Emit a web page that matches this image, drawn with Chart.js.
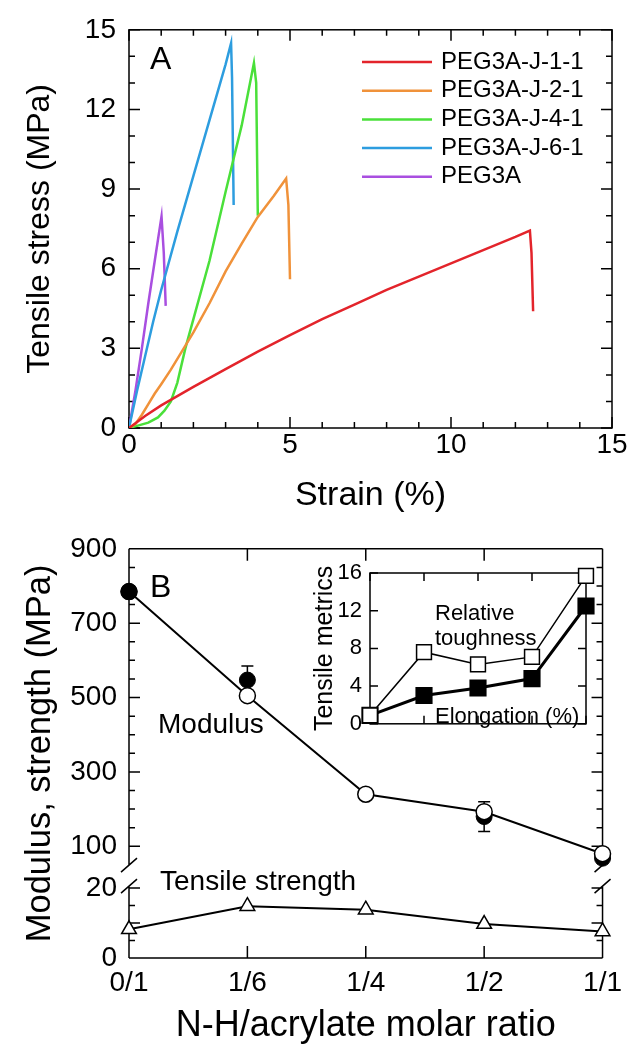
<!DOCTYPE html>
<html>
<head>
<meta charset="utf-8">
<title>PEG3A tensile tests</title>
<script src="https://cdn.jsdelivr.net/npm/chart.js@4.4.1/dist/chart.umd.min.js"></script>
<style>
  html, body { margin: 0; padding: 0; background: #fff; overflow: hidden; }
  #figure { position: relative; width: 630px; height: 1044px; overflow: hidden; }
  #figure canvas { position: absolute; }
  #chartA { left: 0; top: 0; }
  #chartB { left: 0; top: 520px; }
  #chartC { left: 290px; top: 550px; }
</style>
</head>
<body>
<div id="figure">
  <canvas id="chartA" width="630" height="520"></canvas>
  <canvas id="chartB" width="630" height="530"></canvas>
  <canvas id="chartC" width="310" height="195"></canvas>
</div>
<script>
// ---- panel A: stress-strain curves ----
const strainTicks = [0, 5, 10, 15];
const stressTicks = [0, 3, 6, 9, 12, 15];

const sampleNames = ['PEG3A-J-1-1', 'PEG3A-J-2-1', 'PEG3A-J-4-1', 'PEG3A-J-6-1', 'PEG3A'];
const sampleColors = ['#e3242b', '#f0923a', '#4ae03a', '#2d9ddf', '#a94fe0'];

const j11Strain = [0, 0.5, 1, 1.5, 2, 3, 4, 5, 6, 7, 8, 9, 10, 11, 12, 12.45, 12.5, 12.55];
const j11Stress = [0, 0.45, 0.85, 1.2, 1.55, 2.22, 2.88, 3.5, 4.1, 4.65, 5.2, 5.7, 6.2, 6.7, 7.2, 7.44, 6.6, 4.4];

const j21Strain = [0, 0.2, 0.4, 0.6, 0.8, 1.0, 1.3, 1.7, 2.0, 2.5, 3.0, 3.5, 4.0, 4.5, 4.88, 4.95, 5.0];
const j21Stress = [0, 0.15, 0.5, 0.9, 1.3, 1.65, 2.2, 3.0, 3.6, 4.7, 5.9, 6.95, 7.95, 8.75, 9.4, 8.4, 5.6];

const j41Strain = [0, 0.3, 0.6, 0.9, 1.1, 1.3, 1.5, 1.75, 2.0, 2.5, 3.0, 3.5, 3.88, 3.95, 4.0];
const j41Stress = [0, 0.1, 0.2, 0.4, 0.65, 1.0, 1.7, 3.0, 4.1, 6.3, 8.9, 11.4, 13.75, 13.0, 8.0];

const j61Strain = [0, 0.25, 0.5, 0.75, 1.0, 1.5, 2.0, 2.5, 3.0, 3.17, 3.2, 3.25];
const j61Stress = [0, 1.4, 2.7, 4.0, 5.2, 7.4, 9.5, 11.6, 13.7, 14.5, 13.2, 8.4];

const pegStrain = [0, 0.2, 0.4, 0.6, 0.8, 1.01, 1.08, 1.14];
const pegStress = [0, 1.4, 3.0, 4.7, 6.3, 7.97, 6.6, 4.6];

const curves = [
    [j11Strain, j11Stress],
    [j21Strain, j21Stress],
    [j41Strain, j41Stress],
    [j61Strain, j61Stress],
    [pegStrain, pegStress]
];

// ---- panel B: modulus and strength vs N-H/acrylate ratio ----
const ratioLabels = ['0/1', '1/6', '1/4', '1/2', '1/1'];
const modulusTicks = [100, 300, 500, 700, 900];
const strengthTicks = [0, 10, 20];
const modulusOpen = [785, 505, 240, 193, 80];
const modulusFilled = [785, 547, null, 180, 68];
const modulusErr = [0, 38, 0, 40, 0];
const strength = [8.2, 14.8, 13.8, 9.7, 7.6];

// ---- inset ----
const metricTicks = [0, 4, 8, 12, 16];
const toughness = [0.9, 7.6, 6.3, 7.1, 15.7];
const elongation = [0.9, 3.0, 3.8, 4.8, 12.5];

const FONT = "'Liberation Sans', Arial, Helvetica, sans-serif";
Chart.defaults.font.family = FONT;
Chart.defaults.color = '#000';
Chart.defaults.animation = false;

function fixedTicks(values) {
    return scale => { scale.ticks = values.map(v => ({ value: v })); };
}

function range(from, to, step) {
    const out = [];
    for (let v = from; v <= to + 1e-9; v += step) out.push(v);
    return out;
}

// inward ticks on bottom + top
function markX(ctx, a, scale, values, len) {
    values.forEach(v => {
        const p = scale.getPixelForValue(v);
        ctx.moveTo(p, a.bottom); ctx.lineTo(p, a.bottom - len);
        ctx.moveTo(p, a.top); ctx.lineTo(p, a.top + len);
    });
}

// inward ticks on left + right
function markY(ctx, a, scale, values, len) {
    values.forEach(v => {
        const p = scale.getPixelForValue(v);
        ctx.moveTo(a.left, p); ctx.lineTo(a.left + len, p);
        ctx.moveTo(a.right, p); ctx.lineTo(a.right - len, p);
    });
}

function hiddenGrid() {
    return { display: false, drawTicks: false };
}

// ---------- chart A ----------
const frameA = {
    id: 'frameA',
    beforeDatasetsDraw(chart) {
        const { ctx, chartArea: a, scales: { x, y } } = chart;
        ctx.save();
        ctx.strokeStyle = '#000';
        ctx.lineWidth = 1.5;
        ctx.strokeRect(a.left, a.top, a.width, a.height);
        ctx.beginPath();
        markX(ctx, a, x, range(0, 15, 1), 6);
        markX(ctx, a, x, strainTicks, 11);
        markY(ctx, a, y, range(0, 15, 1), 6);
        markY(ctx, a, y, stressTicks, 11);
        ctx.stroke();
        ctx.restore();
    },
    afterDraw(chart) {
        const { ctx } = chart;
        ctx.save();
        ctx.font = `24px ${FONT}`;
        ctx.textBaseline = 'middle';
        chart.data.datasets.forEach((ds, i) => {
            const yy = 62 + i * 28.7;
            ctx.strokeStyle = ds.borderColor;
            ctx.lineWidth = 2.5;
            ctx.beginPath();
            ctx.moveTo(362, yy);
            ctx.lineTo(432, yy);
            ctx.stroke();
            ctx.fillStyle = '#000';
            ctx.fillText(ds.label, 441, yy);
        });
        ctx.font = `32px ${FONT}`;
        ctx.textBaseline = 'alphabetic';
        ctx.fillText('A', 150, 69);
        ctx.restore();
    }
};

new Chart(document.getElementById('chartA'), {
    type: 'scatter',
    data: {
        datasets: curves.map((c, i) => ({
            label: sampleNames[i],
            data: c[0].map((s, k) => ({ x: s, y: c[1][k] })),
            showLine: true,
            borderColor: sampleColors[i],
            borderWidth: 2.5,
            pointRadius: 0,
            tension: 0
        }))
    },
    options: {
        responsive: false,
        animation: false,
        layout: { padding: { top: 20, right: 18, left: 0, bottom: 0 } },
        plugins: { legend: { display: false }, tooltip: { enabled: false } },
        scales: {
            x: {
                type: 'linear', min: 0, max: 15,
                afterBuildTicks: fixedTicks(strainTicks),
                grid: hiddenGrid(), border: { display: false },
                ticks: { font: { size: 28 }, padding: 0, color: '#000' },
                title: { display: true, text: 'Strain (%)', font: { size: 34 }, color: '#000', padding: { top: 0, bottom: 3.6 } },
                afterFit: s => { s.height = 92; }
            },
            y: {
                type: 'linear', min: 0, max: 15,
                afterBuildTicks: fixedTicks(stressTicks),
                grid: hiddenGrid(), border: { display: false },
                ticks: { font: { size: 28 }, padding: 13, color: '#000' },
                title: { display: true, text: 'Tensile stress (MPa)', font: { size: 32 }, color: '#000', padding: { top: 21, bottom: 0 } },
                afterFit: s => { s.width = 129; }
            }
        }
    },
    plugins: [frameA]
});

// ---------- chart B ----------
const TOP_B = 520;

const frameB = {
    id: 'frameB',
    beforeDatasetsDraw(chart) {
        const { ctx, chartArea: a, scales: { x, yMod, yStr } } = chart;
        const breakTop = yMod.bottom - 12;
        const breakBottom = yStr.top + 9;
        ctx.save();
        ctx.strokeStyle = '#000';
        ctx.lineWidth = 1.5;
        ctx.beginPath();
        ctx.moveTo(a.left, a.top); ctx.lineTo(a.right, a.top);
        ctx.moveTo(a.left, a.bottom); ctx.lineTo(a.right, a.bottom);
        [a.left, a.right].forEach(xx => {
            ctx.moveTo(xx, a.top); ctx.lineTo(xx, breakTop);
            ctx.moveTo(xx, breakBottom); ctx.lineTo(xx, a.bottom);
            [breakTop, breakBottom].forEach(yy => {
                ctx.moveTo(xx - 8, yy + 7); ctx.lineTo(xx + 8, yy - 7);
            });
        });
        markX(ctx, a, x, ratioLabels.map((_, i) => i), 12);
        const sides = { left: a.left, right: a.right };
        markY(ctx, sides, yMod, range(100, 900, 50), 6);
        markY(ctx, sides, yMod, modulusTicks, 11);
        markY(ctx, sides, yStr, range(0, 20, 5), 6);
        markY(ctx, sides, yStr, strengthTicks, 11);
        ctx.stroke();

        // error bars on the filled modulus points
        ctx.beginPath();
        modulusFilled.forEach((v, i) => {
            if (v === null || !modulusErr[i]) return;
            const px = x.getPixelForValue(i);
            const hi = yMod.getPixelForValue(v + modulusErr[i]);
            const lo = yMod.getPixelForValue(v - modulusErr[i]);
            ctx.moveTo(px, hi); ctx.lineTo(px, lo);
            ctx.moveTo(px - 6, hi); ctx.lineTo(px + 6, hi);
            ctx.moveTo(px - 6, lo); ctx.lineTo(px + 6, lo);
        });
        ctx.stroke();
        ctx.restore();
    },
    afterDraw(chart) {
        const { ctx, chartArea: a } = chart;
        ctx.save();
        ctx.fillStyle = '#000';
        ctx.textBaseline = 'alphabetic';
        ctx.font = `32px ${FONT}`;
        ctx.fillText('B', 150, 597 - TOP_B);
        ctx.font = `28px ${FONT}`;
        ctx.fillText('Modulus', 158, 733 - TOP_B);
        ctx.fillText('Tensile strength', 160, 890 - TOP_B);

        ctx.translate(40, (a.top + a.bottom) / 2);
        ctx.rotate(-Math.PI / 2);
        ctx.font = `34.5px ${FONT}`;
        ctx.textAlign = 'center';
        ctx.textBaseline = 'middle';
        ctx.fillText('Modulus, strength (MPa)', 0, 0);
        ctx.restore();
    }
};

new Chart(document.getElementById('chartB'), {
    type: 'line',
    data: {
        labels: ratioLabels,
        datasets: [
            {
                label: 'Tensile strength', data: strength, yAxisID: 'yStr',
                borderColor: '#000', borderWidth: 2,
                pointStyle: 'triangle', pointRadius: 8.5,
                pointBackgroundColor: '#fff', pointBorderColor: '#000', pointBorderWidth: 1.5,
                clip: false, order: 1
            },
            {
                label: 'Modulus', data: modulusOpen, yAxisID: 'yMod',
                borderColor: '#000', borderWidth: 2,
                pointStyle: 'circle', pointRadius: 8,
                pointBackgroundColor: modulusOpen.map((v, i) => i === 0 ? '#000' : '#fff'),
                pointBorderColor: '#000', pointBorderWidth: 1.5,
                clip: false, order: 1
            },
            {
                label: 'Modulus (2nd set)', data: modulusFilled, yAxisID: 'yMod',
                showLine: false,
                pointStyle: 'circle', pointRadius: 8,
                pointBackgroundColor: '#000', pointBorderColor: '#000',
                clip: false, order: 2
            }
        ]
    },
    options: {
        responsive: false,
        animation: false,
        layout: { padding: { top: 28, right: 18, left: 0, bottom: 0 } },
        plugins: { legend: { display: false }, tooltip: { enabled: false } },
        scales: {
            x: {
                type: 'category', offset: false,
                grid: hiddenGrid(), border: { display: false },
                ticks: { font: { size: 28 }, padding: 8, maxRotation: 0, autoSkip: false, color: '#000' },
                title: { display: true, text: 'N-H/acrylate molar ratio', font: { size: 36 }, color: '#000', padding: { top: 0, bottom: 2.7 } },
                afterFit: s => { s.height = 92; }
            },
            // left boxes are stacked in reverse order: the lower axis is declared first
            yStr: {
                type: 'linear', position: 'left', stack: 'ratio', stackWeight: 81,
                min: 0, max: 23.1,
                afterBuildTicks: fixedTicks(strengthTicks),
                grid: hiddenGrid(), border: { display: false },
                ticks: { font: { size: 28 }, padding: 12, color: '#000' },
                afterFit: s => { s.width = 129; }
            },
            yMod: {
                type: 'linear', position: 'left', stack: 'ratio', stackWeight: 329,
                min: 17, max: 900,
                afterBuildTicks: fixedTicks(modulusTicks),
                grid: hiddenGrid(), border: { display: false },
                ticks: { font: { size: 28 }, padding: 12, color: '#000' },
                afterFit: s => { s.width = 129; }
            }
        }
    },
    plugins: [frameB]
});

// ---------- inset C ----------
const frameC = {
    id: 'frameC',
    beforeDatasetsDraw(chart) {
        const { ctx, chartArea: a, scales: { x, y } } = chart;
        ctx.save();
        ctx.fillStyle = '#fff';
        ctx.fillRect(a.left, a.top, a.width, a.height);
        ctx.strokeStyle = '#000';
        ctx.lineWidth = 1.5;
        ctx.strokeRect(a.left, a.top, a.width, a.height);
        ctx.beginPath();
        markX(ctx, a, x, ratioLabels.map((_, i) => i), 8);
        markY(ctx, a, y, metricTicks, 8);
        ctx.stroke();
        ctx.restore();
    },
    afterDraw(chart) {
        const { ctx } = chart;
        const left = 290, top = 550;
        ctx.save();
        ctx.fillStyle = '#000';
        ctx.font = `22px ${FONT}`;
        ctx.textBaseline = 'alphabetic';
        ctx.fillText('Relative', 435 - left, 620 - top);
        ctx.fillText('toughness', 435 - left, 645 - top);
        ctx.fillText('Elongation (%)', 435 - left, 723 - top);
        ctx.restore();
    }
};

new Chart(document.getElementById('chartC'), {
    type: 'line',
    data: {
        labels: ratioLabels,
        datasets: [
            {
                label: 'Relative toughness', data: toughness,
                borderColor: '#000', borderWidth: 1.5,
                pointStyle: 'rect', pointRadius: 10.5,
                pointBackgroundColor: '#fff', pointBorderColor: '#000', pointBorderWidth: 1.5,
                clip: false, order: 1
            },
            {
                label: 'Elongation (%)', data: elongation,
                borderColor: '#000', borderWidth: 3,
                pointStyle: 'rect', pointRadius: 10,
                pointBackgroundColor: '#000', pointBorderColor: '#000',
                clip: false, order: 2
            }
        ]
    },
    options: {
        responsive: false,
        animation: false,
        layout: { padding: { top: 23, right: 14, left: 0, bottom: 12 } },
        plugins: { legend: { display: false }, tooltip: { enabled: false } },
        scales: {
            x: { type: 'category', display: false, offset: false },
            y: {
                type: 'linear', min: 0, max: 16,
                afterBuildTicks: fixedTicks(metricTicks),
                grid: hiddenGrid(), border: { display: false },
                ticks: { font: { size: 22 }, padding: 8, color: '#000' },
                title: { display: true, text: 'Tensile metrics', font: { size: 25 }, color: '#000', padding: { top: 20, bottom: 0 } },
                afterFit: s => { s.width = 80; }
            }
        }
    },
    plugins: [frameC]
});
</script>
</body>
</html>
